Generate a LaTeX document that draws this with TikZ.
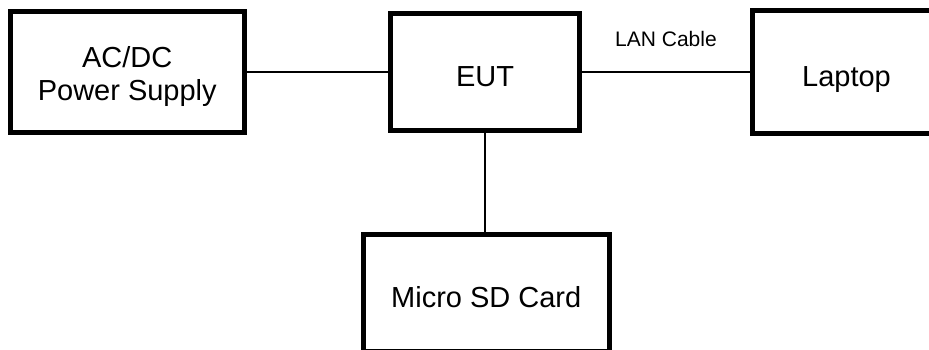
\documentclass[tikz,border=0pt]{standalone}
\usepackage{fontspec}
\setmainfont{Liberation Sans}
\usetikzlibrary{positioning}

\newcommand{\lowered}[1]{\raisebox{-5pt}[\height][\depth]{#1}}

\begin{document}
\begin{tikzpicture}[x=1pt, y=-1pt]
    % Define styles for boxes and lines
    \tikzset{block/.style={draw, line width=5pt, rectangle, inner sep=0pt, align=center, font=\fontsize{29}{33}\selectfont, text height=32pt, text depth=3pt},
             wire/.style={line width=1.5pt}}
    \useasboundingbox (0,0) rectangle (929,350);

    % Boxes
    \node[block, minimum width=233.5pt, minimum height=120.5pt, text height=, text depth=] (psu) at (127.25,72) {\lowered{AC/DC}\\\lowered{Power Supply}};
    \node[block, minimum width=189pt, minimum height=117pt] (eut) at (485,72) {EUT};
    \node[block, minimum width=188pt, minimum height=123pt] (laptop) at (846.5,72) {Laptop};
    \node[block, minimum width=245.5pt, minimum height=116.5pt] (sd) at (486.25,292.75) {Micro SD Card};

    % Lines
    \draw[wire] (psu.east) -- (psu.east -| eut.west);
    \draw[wire] (eut.east) -- (eut.east -| laptop.west)
        node[midway, above=25pt, inner sep=0pt, font=\fontsize{21}{24}\selectfont] (lan) {LAN Cable};
    \draw[wire] (eut.south) -- (eut.south |- sd.north);
\end{tikzpicture}
\end{document}
